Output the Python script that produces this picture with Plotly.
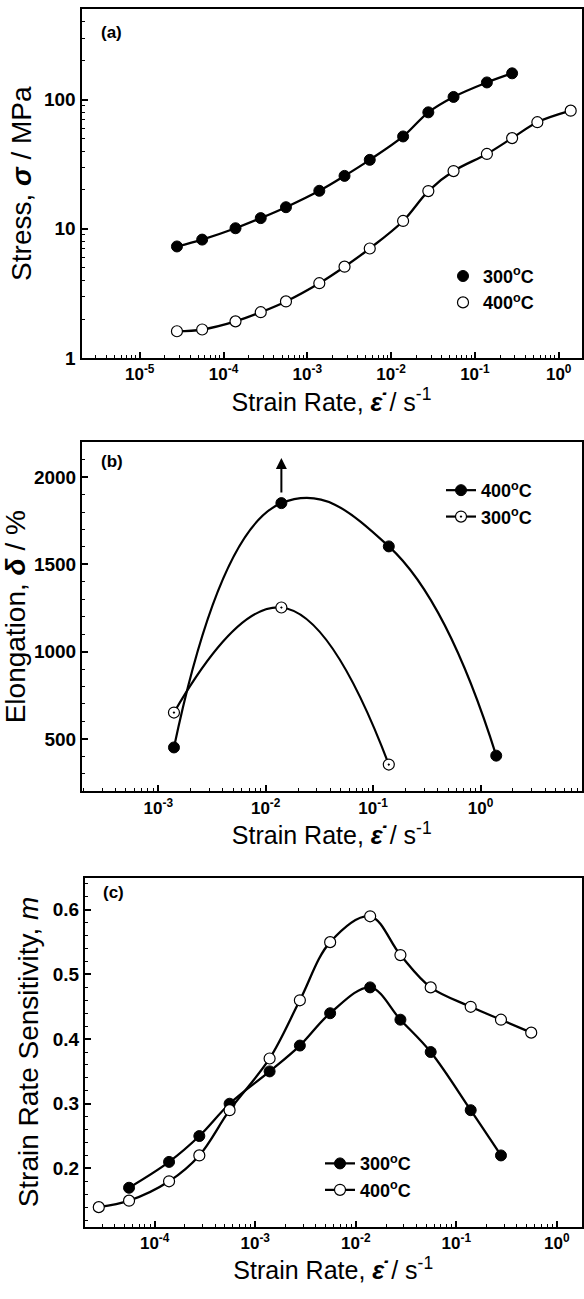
import numpy as np
import plotly.graph_objects as go

# ---------------- data ----------------
# Panel (a): flow stress vs strain rate
rate_a_300 = [2.78e-5, 5.56e-5, 1.39e-4, 2.78e-4, 5.56e-4, 1.39e-3, 2.78e-3,
              5.56e-3, 1.39e-2, 2.78e-2, 5.56e-2, 1.39e-1, 2.78e-1]
stress_300 = [7.3, 8.25, 10.1, 12.1, 14.7, 19.7, 25.7, 34.2, 51.9, 79.8, 105, 136, 160]
rate_a_400 = [2.78e-5, 5.56e-5, 1.39e-4, 2.78e-4, 5.56e-4, 1.39e-3, 2.78e-3,
              5.56e-3, 1.39e-2, 2.78e-2, 5.56e-2, 1.39e-1, 2.78e-1, 5.56e-1, 1.39]
stress_400 = [1.61, 1.66, 1.92, 2.26, 2.74, 3.79, 5.09, 7.04, 11.5, 19.6, 28.0,
              38.0, 50.4, 66.9, 82.2]

# Panel (b): elongation vs strain rate
rate_b_400 = [1.4e-3, 1.4e-2, 1.4e-1, 1.4]
elong_400 = [451, 1851, 1603, 404]
rate_b_300 = [1.4e-3, 1.4e-2, 1.4e-1]
elong_300 = [651, 1253, 353]
arrow_top = 2110  # arrow head (elongation exceeds measured value)

# Panel (c): strain rate sensitivity vs strain rate
rate_c_300 = [5.56e-5, 1.39e-4, 2.78e-4, 5.56e-4, 1.39e-3, 2.78e-3, 5.56e-3,
              1.39e-2, 2.78e-2, 5.56e-2, 1.39e-1, 2.78e-1]
m_300 = [0.17, 0.21, 0.25, 0.30, 0.35, 0.39, 0.44, 0.48, 0.43, 0.38, 0.29, 0.22]
rate_c_400 = [2.78e-5, 5.56e-5, 1.39e-4, 2.78e-4, 5.56e-4, 1.39e-3, 2.78e-3,
              5.56e-3, 1.39e-2, 2.78e-2, 5.56e-2, 1.39e-1, 2.78e-1, 5.56e-1]
m_400 = [0.14, 0.15, 0.18, 0.22, 0.29, 0.37, 0.46, 0.55, 0.59, 0.53, 0.48, 0.45, 0.43, 0.41]

# tick labels
xa_tickvals = [1e-5, 1e-4, 1e-3, 1e-2, 1e-1, 1]
xa_ticktext = ["10<sup>-5</sup>", "10<sup>-4</sup>", "10<sup>-3</sup>",
               "10<sup>-2</sup>", "10<sup>-1</sup>", "10<sup>0</sup>"]
ya_tickvals = [1, 10, 100]
ya_ticktext = ["1", "10", "100"]
xb_tickvals = [1e-3, 1e-2, 1e-1, 1]
xb_ticktext = ["10<sup>-3</sup>", "10<sup>-2</sup>", "10<sup>-1</sup>", "10<sup>0</sup>"]
yb_tickvals = [500, 1000, 1500, 2000]
xc_tickvals = [1e-4, 1e-3, 1e-2, 1e-1, 1]
xc_ticktext = ["10<sup>-4</sup>", "10<sup>-3</sup>", "10<sup>-2</sup>",
               "10<sup>-1</sup>", "10<sup>0</sup>"]
yc_tickvals = [0.2, 0.3, 0.4, 0.5, 0.6]
yc_ticktext = ["0.2", "0.3", "0.4", "0.5", "0.6"]

labels_a = ["300<sup>o</sup>C", "400<sup>o</sup>C"]
labels_b = ["400<sup>o</sup>C", "300<sup>o</sup>C"]
labels_c = ["300<sup>o</sup>C", "400<sup>o</sup>C"]

# ---------------- styling ----------------
W, H = 584, 1299
FONT = "Liberation Sans, Arial, sans-serif"
BLACK = "black"
log_minor = [d * 10.0 ** k for k in range(-7, 3) for d in range(2, 10)]

def px_x(p):
    return p / W

def px_y(p):
    return 1 - p / H

fig = go.Figure()

filled = dict(color=BLACK, size=11, line=dict(color=BLACK, width=1))
opened = dict(color="white", size=11, line=dict(color=BLACK, width=1.2), symbol="circle")
dotted = dict(color="white", size=11, line=dict(color=BLACK, width=1.2), symbol="circle-dot")
line_style = dict(color=BLACK, width=2.3, shape="spline", smoothing=1.0)

# Panel (a)
fig.add_trace(go.Scatter(x=rate_a_300, y=stress_300, mode="lines+markers",
                         line=line_style, marker=filled, showlegend=False,
                         xaxis="x", yaxis="y"))
fig.add_trace(go.Scatter(x=rate_a_400, y=stress_400, mode="lines+markers",
                         line=line_style, marker=opened, showlegend=False,
                         xaxis="x", yaxis="y"))
# legend entries (markers only, as in the original)
fig.add_trace(go.Scatter(x=[None], y=[None], mode="markers", marker=filled,
                         name=labels_a[0], legend="legend", legendgroup="a1",
                         xaxis="x", yaxis="y"))
fig.add_trace(go.Scatter(x=[None], y=[None], mode="markers", marker=opened,
                         name=labels_a[1], legend="legend", legendgroup="a2",
                         xaxis="x", yaxis="y"))

# Panel (b)
line_b = dict(color=BLACK, width=2.2, shape="spline", smoothing=1.3)
fig.add_trace(go.Scatter(x=rate_b_400, y=elong_400, mode="lines+markers",
                         line=line_b, marker=filled, name=labels_b[0],
                         legend="legend2", legendgroup="b1", xaxis="x2", yaxis="y2"))
fig.add_trace(go.Scatter(x=rate_b_300, y=elong_300, mode="lines+markers",
                         line=line_b, marker=dotted, name=labels_b[1],
                         legend="legend2", legendgroup="b2", xaxis="x2", yaxis="y2"))

# Panel (c)
fig.add_trace(go.Scatter(x=rate_c_300, y=m_300, mode="lines+markers",
                         line=line_style, marker=filled, name=labels_c[0],
                         legend="legend3", legendgroup="c1", xaxis="x3", yaxis="y3"))
fig.add_trace(go.Scatter(x=rate_c_400, y=m_400, mode="lines+markers",
                         line=line_style, marker=opened, name=labels_c[1],
                         legend="legend3", legendgroup="c2", xaxis="x3", yaxis="y3"))

xtickfont = dict(family=FONT, size=17, color=BLACK, weight="bold")
ytickfont = dict(family=FONT, size=19, color=BLACK, weight="bold")
xtitlefont = dict(family=FONT, size=25, color=BLACK)
ytitlefont = dict(family=FONT, size=28, color=BLACK)
xtitle = "Strain Rate, <b><i>\u03b5\u0307</i></b> / s<sup>-1</sup>"

def axis_common(tf):
    return dict(showline=True, linecolor=BLACK, linewidth=2, mirror=True,
                ticks="inside", ticklen=6, tickwidth=1.5, tickcolor=BLACK,
                showgrid=False, zeroline=False, tickfont=tf)

def log_minor_cfg():
    return dict(tickmode="array", tickvals=log_minor, ticks="inside",
                ticklen=3, tickwidth=1.2, tickcolor=BLACK, showgrid=False)

# domains (paper) derived from pixel frame
xa_dom = [px_x(81.5), px_x(581.5)]
ya_dom = [px_y(361), px_y(9.5)]
xb_dom = [px_x(82), px_x(581.5)]
yb_dom = [px_y(798), px_y(446)]
xc_dom = [px_x(85), px_x(581.5)]
yc_dom = [px_y(1237), px_y(885)]

fig.update_layout(
    width=W, height=H, margin=dict(l=0, r=0, t=0, b=0),
    paper_bgcolor="white", plot_bgcolor="white",
    font=dict(family=FONT, color=BLACK),
    xaxis=dict(**axis_common(xtickfont), type="log", domain=xa_dom, anchor="y",
               range=[-5.695, 0.272], tickmode="array", tickvals=xa_tickvals,
               ticktext=xa_ticktext, minor=log_minor_cfg(),
               title=dict(text=xtitle, font=xtitlefont, standoff=4)),
    yaxis=dict(**axis_common(ytickfont), type="log", domain=ya_dom, anchor="x",
               range=[0, np.log10(500)], tickmode="array", tickvals=ya_tickvals,
               ticktext=ya_ticktext, minor=log_minor_cfg(),
               title=dict(text="Stress, <b><i>\u03c3</i></b> / MPa", font=ytitlefont, standoff=4)),
    xaxis2=dict(**axis_common(xtickfont), type="log", domain=xb_dom, anchor="y2",
                range=[-3.71, 0.94], tickmode="array", tickvals=xb_tickvals,
                ticktext=xb_ticktext, minor=log_minor_cfg(),
                title=dict(text=xtitle, font=xtitlefont, standoff=4)),
    yaxis2=dict(**axis_common(ytickfont), domain=yb_dom, anchor="x2",
                range=[200, 2200], tickmode="array", tickvals=yb_tickvals,
                minor=dict(dtick=100, ticks="inside", ticklen=3, tickwidth=1.2,
                           tickcolor=BLACK, showgrid=False),
                title=dict(text="Elongation, <b><i>\u03b4</i></b> / %", font=ytitlefont, standoff=2)),
    xaxis3=dict(**axis_common(xtickfont), type="log", domain=xc_dom, anchor="y3",
                range=[-4.693, 0.245], tickmode="array", tickvals=xc_tickvals,
                ticktext=xc_ticktext, minor=log_minor_cfg(),
                title=dict(text=xtitle, font=xtitlefont, standoff=4)),
    yaxis3=dict(**axis_common(ytickfont), domain=yc_dom, anchor="x3",
                range=[0.11, 0.65], tickmode="array", tickvals=yc_tickvals,
                ticktext=yc_ticktext,
                minor=dict(dtick=0.02, ticks="inside", ticklen=3, tickwidth=1.2,
                           tickcolor=BLACK, showgrid=False),
                title=dict(text="Strain Rate Sensitivity, <i>m</i>", font=ytitlefont, standoff=6)),
)

legend_font = dict(family=FONT, size=18, color=BLACK, weight="bold")
legend_common = dict(bgcolor="rgba(0,0,0,0)", borderwidth=0, font=legend_font,
                     xanchor="left", yanchor="top", traceorder="grouped",
                     tracegroupgap=0, itemsizing="trace")
fig.update_layout(
    legend=dict(**legend_common, x=px_x(443), y=px_y(260)),
    legend2=dict(**legend_common, x=px_x(441), y=px_y(476)),
    legend3=dict(**legend_common, x=px_x(320), y=px_y(1155)),
)

panel_font = dict(family=FONT, size=17, color=BLACK, weight="bold")
annotations = [
    dict(text="(a)", xref="x domain", yref="y domain", x=0.035, y=0.933,
         xanchor="left", yanchor="middle", showarrow=False, font=panel_font),
    dict(text="(b)", xref="x2 domain", yref="y2 domain", x=0.034, y=0.946,
         xanchor="left", yanchor="middle", showarrow=False, font=panel_font),
    dict(text="(c)", xref="x3 domain", yref="y3 domain", x=0.032, y=0.957,
         xanchor="left", yanchor="middle", showarrow=False, font=panel_font),
    dict(text="", xref="x2", yref="y2", x=np.log10(rate_b_400[1]), y=arrow_top,
         ax=0, ay=36, showarrow=True, arrowhead=2, arrowsize=1.1, arrowwidth=2,
         arrowcolor=BLACK, standoff=0, startstandoff=0),
]
fig.update_layout(annotations=annotations)

fig.write_html("out.html", config={"displayModeBar": False},
               post_script="document.body.style.margin='0px';document.body.style.overflow='hidden';")
